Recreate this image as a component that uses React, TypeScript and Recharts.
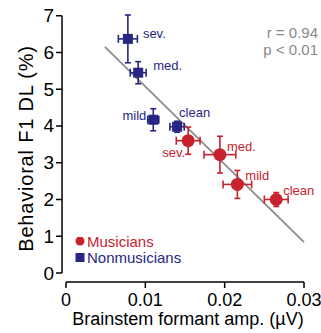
import { ScatterChart, Scatter, XAxis, YAxis, ErrorBar, ReferenceLine, Legend } from 'recharts';

const CONDITIONS = ['clean', 'mild', 'med.', 'sev.'];

// brainstem formant amplitude (µV) and behavioral F1 DL (%)
const MUS_AMP = [0.0265, 0.0216, 0.0194, 0.0154];
const MUS_AMP_ERR = [0.0015, 0.0018, 0.002, 0.0015];
const MUS_DL = [2.0, 2.41, 3.22, 3.6];
const MUS_DL_ERR = [0.19, 0.38, 0.5, 0.37];

const NON_AMP = [0.014, 0.011, 0.0091, 0.0078];
const NON_AMP_ERR = [0.0009, 0.0007, 0.001, 0.0012];
const NON_DL = [3.98, 4.17, 5.45, 6.37];
const NON_DL_ERR = [0.15, 0.3, 0.3, 0.65];

const FIT_X = [0.0049, 0.03];
const FIT_Y = [6.15, 0.84];

const X_TICKS = [0, 0.01, 0.02, 0.03];
const Y_TICKS = [0, 1, 2, 3, 4, 5, 6, 7];

const RED = '#c8222d';
const NAVY = '#272783';
const FONT = '"Liberation Sans", Arial, sans-serif';

const LABEL_POS: Record<string, [number, number, 'start' | 'end']> = {
  'mus-clean': [7, -9, 'start'],
  'mus-mild': [8, -9, 'start'],
  'mus-med.': [7, -8, 'start'],
  'mus-sev.': [-3, 12, 'end'],
  'non-clean': [2, -14, 'start'],
  'non-mild': [-7, -4, 'end'],
  'non-med.': [15, -7, 'start'],
  'non-sev.': [15, -5, 'start'],
};

const musData = CONDITIONS.map((c, i) => ({
  label: c, x: MUS_AMP[i], y: MUS_DL[i], xErr: MUS_AMP_ERR[i], yErr: MUS_DL_ERR[i],
}));
const nonData = CONDITIONS.map((c, i) => ({
  label: c, x: NON_AMP[i], y: NON_DL[i], xErr: NON_AMP_ERR[i], yErr: NON_DL_ERR[i],
}));

function markLabel(group: string, color: string, cx: number, cy: number, label: string) {
  const [dx, dy, anchor] = LABEL_POS[`${group}-${label}`];
  return (
    <text x={cx + dx} y={cy + dy} textAnchor={anchor} dominantBaseline="central"
      fontSize={13} fontFamily={FONT} fill={color}>
      {label}
    </text>
  );
}

const CircleShape = (props: any) => (
  <g>
    <circle cx={props.cx} cy={props.cy} r={6.5} fill={RED} />
    {markLabel('mus', RED, props.cx, props.cy, props.payload.label)}
  </g>
);

const SquareShape = (props: any) => (
  <g>
    <rect x={props.cx - 5} y={props.cy - 5} width={10} height={10} fill={NAVY} />
    {markLabel('non', NAVY, props.cx, props.cy, props.payload.label)}
  </g>
);

const XTick = ({ x, y, payload }: any) => (
  <g>
    <line x1={x} x2={x} y1={y} y2={y + 6} stroke="#000" strokeWidth={1.5} />
    <text x={x} y={y + 17.5} textAnchor="middle" dominantBaseline="central"
      fontSize={18} fontFamily={FONT} fill="#000">
      {payload.value}
    </text>
  </g>
);

const YTick = ({ x, y, payload }: any) => (
  <g>
    <line x1={x - 6} x2={x} y1={y} y2={y} stroke="#000" strokeWidth={1.5} />
    <text x={x - 8} y={y} textAnchor="end" dominantBaseline="central"
      fontSize={19} fontFamily={FONT} fill="#000">
      {payload.value}
    </text>
  </g>
);

const LegendBox = () => (
  <div style={{ fontFamily: FONT, fontSize: 15, lineHeight: '16px' }}>
    <div style={{ color: RED, display: 'flex', alignItems: 'center' }}>
      <svg width={12} height={10}><circle cx={5} cy={4} r={4.5} fill={RED} /></svg>
      <span>Musicians</span>
    </div>
    <div style={{ color: NAVY, display: 'flex', alignItems: 'center' }}>
      <svg width={12} height={10}><rect x={0.5} y={0} width={9} height={9} fill={NAVY} /></svg>
      <span>Nonmusicians</span>
    </div>
  </div>
);

export default function App() {
  return (
    <div style={{ position: 'absolute', left: 0, top: 0, width: 321, height: 333, background: '#fff' }}>
      <ScatterChart width={321} height={333} margin={{ top: 15, right: 17, bottom: 0, left: 0 }}>
        <XAxis
          type="number"
          dataKey="x"
          domain={[0, 0.03]}
          ticks={X_TICKS}
          padding={{ left: 4, right: 0 }}
          height={51}
          axisLine={false}
          tickLine={false}
          tickSize={0}
          tickMargin={0}
          tick={<XTick />}
          label={{
            content: ({ viewBox }: any) => (
              <text x={viewBox.x + viewBox.width / 2 + 5} y={viewBox.y + 37} textAnchor="middle"
                dominantBaseline="central" fontSize={18} fontFamily={FONT} fill="#000">
                Brainstem formant amp. (µV)
              </text>
            ),
          }}
        />
        <YAxis
          type="number"
          dataKey="y"
          domain={[0, 7]}
          ticks={Y_TICKS}
          padding={{ top: 0, bottom: 9 }}
          width={62}
          axisLine={false}
          tickLine={false}
          tickSize={0}
          tickMargin={0}
          tick={<YTick />}
          label={{
            content: ({ viewBox }: any) => {
              const cy = viewBox.y + viewBox.height / 2;
              return (
                <text x={26} y={cy} transform={`rotate(-90 26 ${cy})`} textAnchor="middle"
                  dominantBaseline="central" fontSize={20} letterSpacing={0.8} fontFamily={FONT} fill="#000">
                  Behavioral F1 DL (%)
                </text>
              );
            },
          }}
        />
        <ReferenceLine
          segment={[{ x: -0.0005, y: 0 }, { x: -0.0005, y: 7 }]}
          stroke="#000" strokeWidth={1.5} ifOverflow="visible"
        />
        <ReferenceLine
          segment={[{ x: 0, y: -0.244 }, { x: 0.03, y: -0.244 }]}
          stroke="#000" strokeWidth={1.5} ifOverflow="visible"
        />
        <ReferenceLine
          segment={[{ x: FIT_X[0], y: FIT_Y[0] }, { x: FIT_X[1], y: FIT_Y[1] }]}
          stroke="#8c8c8c" strokeWidth={1.8} ifOverflow="visible"
        />
        <Scatter name="Nonmusicians" data={nonData} shape={SquareShape} isAnimationActive={false}>
          <ErrorBar dataKey="xErr" direction="x" width={4} stroke={NAVY} strokeWidth={1.6} isAnimationActive={false} />
          <ErrorBar dataKey="yErr" direction="y" width={3} stroke={NAVY} strokeWidth={1.6} isAnimationActive={false} />
        </Scatter>
        <Scatter name="Musicians" data={musData} shape={CircleShape} isAnimationActive={false}>
          <ErrorBar dataKey="xErr" direction="x" width={4} stroke={RED} strokeWidth={1.6} isAnimationActive={false} />
          <ErrorBar dataKey="yErr" direction="y" width={3} stroke={RED} strokeWidth={1.6} isAnimationActive={false} />
        </Scatter>
        <Legend
          layout="vertical"
          align="center"
          verticalAlign="middle"
          content={<LegendBox />}
          wrapperStyle={{ left: 75, top: 234, width: 120, height: 34 }}
        />
        <text x={318} y={32} textAnchor="end" dominantBaseline="central" fontSize={15} fontFamily={FONT} fill="#8a8a8a">
          r = 0.94
        </text>
        <text x={318} y={49} textAnchor="end" dominantBaseline="central" fontSize={15} fontFamily={FONT} fill="#8a8a8a">
          p &lt; 0.01
        </text>
      </ScatterChart>
    </div>
  );
}
